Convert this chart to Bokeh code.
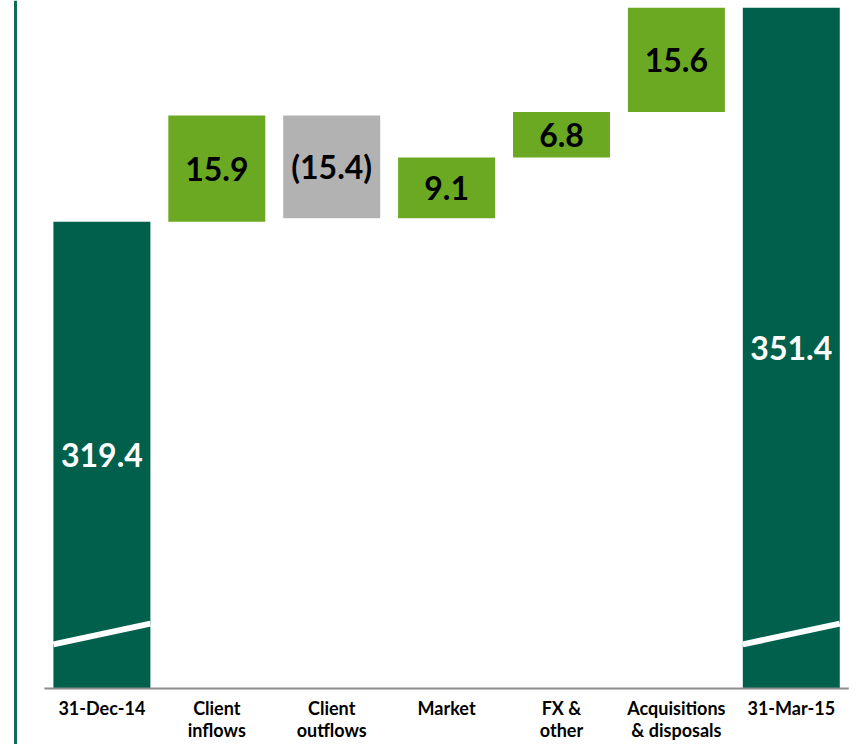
from bokeh.plotting import figure
from bokeh.models import ColumnDataSource, Span, Range1d
from bokeh.core.properties import value
from bokeh.embed import file_html
from bokeh.resources import INLINE

# ---- data ----
categories = ["31-Dec-14", "Client\ninflows", "Client\noutflows", "Market",
              "FX &\nother", "Acquisitions\n& disposals", "31-Mar-15"]
opening = 319.4
changes = [15.9, -15.4, 9.1, 6.8, 15.6]
closing = 351.4
axis_base = 249.6  # broken axis starts here

DARK = "#00604C"
GREEN = "#6BA923"
GREY = "#B2B2B2"

# ---- build waterfall ----
xs = list(range(len(categories)))
bottoms, tops, colors, labels, label_colors = [], [], [], [], []
bottoms.append(axis_base); tops.append(opening); colors.append(DARK)
labels.append(f"{opening:.1f}"); label_colors.append("white")
run = opening
for c in changes:
    lo, hi = (run, run + c) if c >= 0 else (run + c, run)
    bottoms.append(lo); tops.append(hi)
    colors.append(GREEN if c >= 0 else GREY)
    labels.append(f"{c:.1f}" if c >= 0 else f"({abs(c):.1f})")
    label_colors.append("black")
    run += c
bottoms.append(axis_base); tops.append(closing); colors.append(DARK)
labels.append(f"{closing:.1f}"); label_colors.append("white")
mids = [(b + t) / 2 for b, t in zip(bottoms, tops)]

src = ColumnDataSource(dict(x=xs, bottom=bottoms, top=tops, color=colors,
                            label=labels, lcolor=label_colors, mid=mids,
                            cat=categories))

W, H = 868, 744
k = 6.6875  # px per unit
p = figure(width=W, height=H, output_backend="svg", toolbar_location=None,
           x_range=Range1d(-0.8825, 6.672),
           y_range=Range1d(axis_base - 56 / k, axis_base + 688 / k),
           min_border=0, outline_line_color=None)
p.axis.visible = False
p.grid.visible = False
p.background_fill_color = "white"
p.border_fill_color = "white"

BW = 0.844
p.vbar(x="x", bottom="bottom", top="top", width=BW, color="color",
       line_color=None, source=src)

# axis-break marks on total bars
tot_idx = [0, len(xs) - 1]
p.segment(x0=[xs[i] - BW / 2 for i in tot_idx], y0=[axis_base + 6.6] * 2,
          x1=[xs[i] + BW / 2 for i in tot_idx], y1=[axis_base + 9.7] * 2,
          line_color="white", line_width=6)

# baseline
p.segment(x0=[-0.5], y0=[axis_base], x1=[len(xs) - 0.5], y1=[axis_base],
          line_color="#8C8C8C", line_width=2)

# left vertical rule
p.add_layout(Span(location=-0.752, dimension="height",
                  line_color="#0F6A5A", line_width=3))

# value labels
p.text(x="x", y="mid", text="label", text_color="lcolor", source=src,
       text_align="center", text_baseline="middle",
       text_font=value("Lato"), text_font_style="bold",
       text_font_size="32px")

# category labels
p.text(x="x", y=axis_base - 8 / k, text="cat", source=src,
       text_align="center", text_baseline="top",
       text_font=value("Lato"), text_font_style="bold",
       text_font_size="18px", text_color="black", text_line_height=1.0)

open("out.html", "w").write(file_html(p, INLINE))
